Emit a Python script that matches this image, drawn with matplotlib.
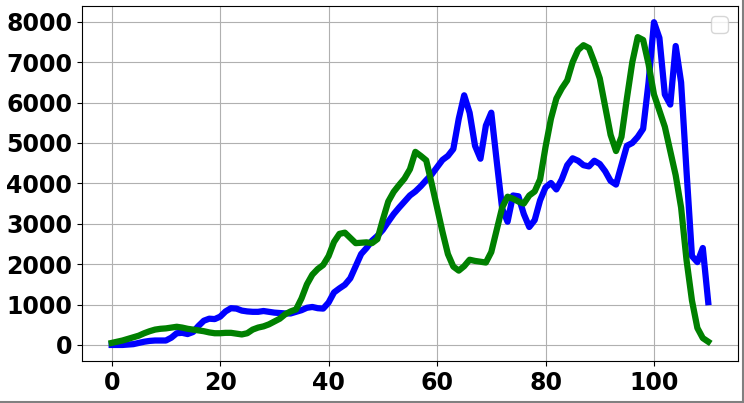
import matplotlib
matplotlib.use('Agg')
import matplotlib.pyplot as plt
import numpy as np

# valores (um ponto por unidade de x, 0..110)
serie_azul = [
    0, 0, 0, 10, 20, 50, 80, 100, 110, 110,
    110, 180, 290, 300, 270, 320, 470, 600, 650, 640,
    700, 830, 910, 900, 850, 830, 820, 820, 840, 820,
    800, 790, 780, 780, 820, 860, 920, 940, 910, 900,
    1050, 1300, 1400, 1490, 1650, 1950, 2250, 2400, 2580, 2700,
    2850, 3050, 3240, 3400, 3550, 3700, 3800, 3930, 4080, 4220,
    4400, 4580, 4680, 4850, 5600, 6180, 5750, 4930, 4610, 5430,
    5750, 4550, 3380, 3050, 3700, 3680, 3240, 2920, 3090, 3580,
    3900, 4010, 3850, 4100, 4450, 4620, 4560, 4450, 4420, 4560,
    4480, 4300, 4060, 3970, 4450, 4930, 5000, 5150, 5350, 6500,
    7990, 7600, 6200, 5950, 7400, 6500, 4300, 2200, 2050, 2400,
    1060,
]
serie_verde = [
    50, 80, 110, 150, 190, 230, 290, 340, 380, 400,
    410, 430, 450, 430, 400, 380, 360, 340, 310, 290,
    290, 300, 300, 280, 260, 290, 380, 430, 460, 510,
    580, 650, 760, 830, 880, 1150, 1500, 1740, 1880, 1980,
    2200, 2550, 2750, 2780, 2650, 2520, 2530, 2540, 2520, 2620,
    3100, 3550, 3790, 3960, 4120, 4350, 4780, 4680, 4570, 4000,
    3400, 2800, 2250, 1940, 1840, 1950, 2110, 2080, 2060, 2040,
    2300, 2850, 3400, 3670, 3620, 3550, 3500, 3700, 3800, 4100,
    4900, 5600, 6100, 6350, 6550, 7000, 7300, 7420, 7350, 7000,
    6600, 5900, 5200, 4800, 5150, 6100, 7000, 7620, 7550, 6950,
    6200, 5800, 5400, 4800, 4200, 3400, 2100, 1100, 420, 170,
    80,
]
dias = np.arange(len(serie_azul))

plt.rcParams['font.size'] = 15

fig = plt.figure(figsize=(7.44, 4.03), dpi=100)
ax = fig.add_axes([0.110, 0.104, 0.882, 0.881])

ax.plot(dias, serie_azul, color='blue', linewidth=4.5)
ax.plot(dias, serie_verde, color='green', linewidth=4.5)

ax.grid(True)
ax.set_xticks([0, 20, 40, 60, 80, 100])
ax.set_yticks([0, 1000, 2000, 3000, 4000, 5000, 6000, 7000, 8000])
ax.tick_params(labelsize=17)
for lbl in ax.get_xticklabels() + ax.get_yticklabels():
    lbl.set_fontweight('bold')

ax.legend(loc='upper right')

# borda cinza só embaixo e à direita, como na imagem original
fig.add_artist(plt.Line2D([0, 0.998], [0.003, 0.003], transform=fig.transFigure,
                          color='#808080', linewidth=1.5))
fig.add_artist(plt.Line2D([0.998, 0.998], [0.003, 1.0], transform=fig.transFigure,
                          color='#808080', linewidth=1.5))

fig.savefig('out.png', dpi=100)
